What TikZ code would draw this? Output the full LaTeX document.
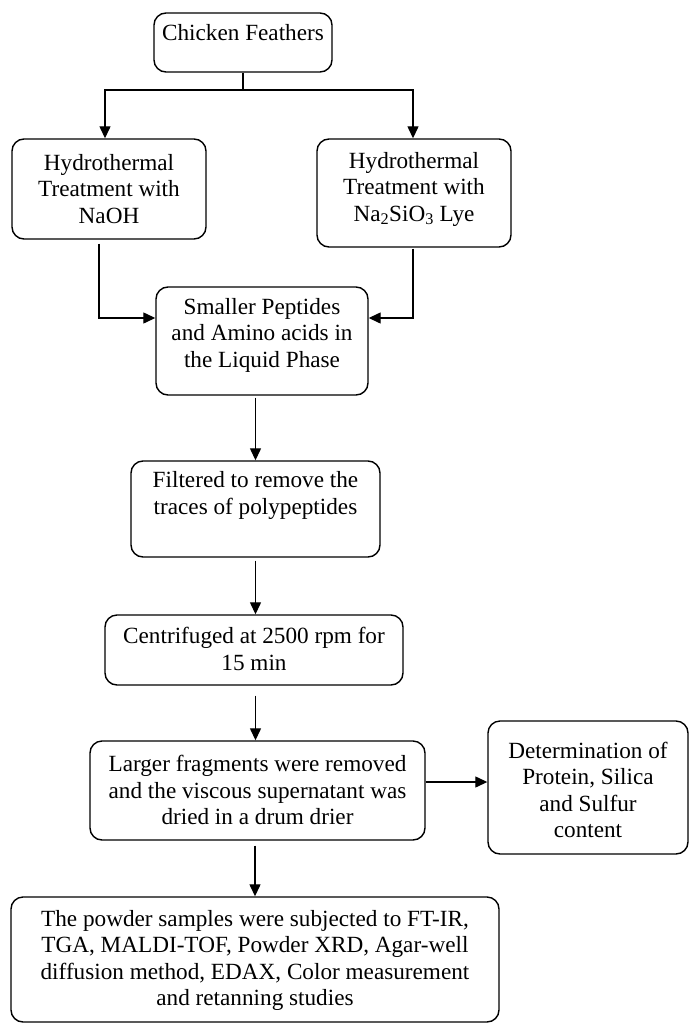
\documentclass[tikz,border=0pt]{standalone}
\usepackage{fontspec}
\setmainfont{Liberation Serif}
\usetikzlibrary{arrows.meta}
\begin{document}
\begin{tikzpicture}[x=1pt,y=-1pt,
  box/.style={draw, line width=1.4pt, rounded corners=12pt, inner sep=0pt},
  txt/.style={align=center, inner sep=0pt, font=\fontsize{23.2}{26.5}\selectfont},
  arr/.style={draw, line width=1.3pt, -{Triangle[length=12pt,width=11pt]}}]
\useasboundingbox (0,0) rectangle (689,1025);
% boxes
\node[box, minimum width=178pt, minimum height=59pt]  (cf)   at (243,42.5) {};
\node[box, minimum width=194pt, minimum height=100pt] (naoh) at (109,189) {};
\node[box, minimum width=194pt, minimum height=108pt] (lye)  at (414,193) {};
\node[box, minimum width=212pt, minimum height=108pt] (pep)  at (262,341) {};
\node[box, minimum width=249pt, minimum height=96pt]  (filt) at (255.5,509) {};
\node[box, minimum width=298pt, minimum height=70pt]  (cent) at (254,650) {};
\node[box, minimum width=335pt, minimum height=99pt]  (larg) at (257.5,790.5) {};
\node[box, minimum width=200pt, minimum height=133pt] (det)  at (588,787.5) {};
\node[box, minimum width=488pt, minimum height=125pt] (pow)  at (255,959.5) {};
% texts
\node[txt] (cft)   at (243,33) {Chicken Feathers};
\node[txt] (naoht) at (109,189) {Hydrothermal\\Treatment with\\NaOH};
\node[txt] (lyet)  at (414,189) {Hydrothermal\\Treatment with\\Na\textsubscript{2}SiO\textsubscript{3} Lye};
\node[txt] (pept)  at (262,335) {Smaller Peptides\\and Amino acids in\\the Liquid Phase};
\node[txt] (filtt) at (255.5,495.5) {Filtered to remove the\\traces of polypeptides};
\node[txt] (centt) at (254,649) {Centrifuged at 2500 rpm for\\15 min};
\node[txt] (largt) at (257.5,790) {Larger fragments were removed\\and the viscous supernatant was\\dried in a drum drier};
\node[txt] (dett)  at (588,790) {Determination of\\Protein, Silica\\and Sulfur\\content};
\node[txt] (powt)  at (255,960.5) {The powder samples were subjected to FT-IR,\\TGA, MALDI-TOF, Powder XRD, Agar-well\\diffusion method, EDAX, Color measurement\\and retanning studies};
% connectors
\coordinate (jn) at (243,90);
\draw[line width=1.3pt] (cf.south) -- (jn);
\draw[arr] (jn) -| ([xshift=-4pt]naoh.north);
\draw[arr] (jn) -| ([xshift=-1pt]lye.north);
\draw[arr, shorten <=4pt] ([xshift=-10pt]naoh.south) |- ([yshift=23pt]pep.west);
\draw[arr, shorten <=1pt] ([xshift=-1pt]lye.south) |- ([yshift=23pt]pep.east);
\draw[arr, shorten <=2pt] (pep.south -| filt.north) -- (filt.north);
\draw[arr, shorten <=3pt] (filt.south) -- (filt.south |- cent.north);
\draw[arr, shorten <=10pt] (filt.south |- cent.south) -- (filt.south |- larg.north);
\draw[arr] ([yshift=8.5pt]larg.east) -- ([yshift=8.5pt]larg.east -| det.west);
\draw[arr, shorten <=5pt] (larg.south -| pow.north) -- (pow.north);
\end{tikzpicture}
\end{document}
